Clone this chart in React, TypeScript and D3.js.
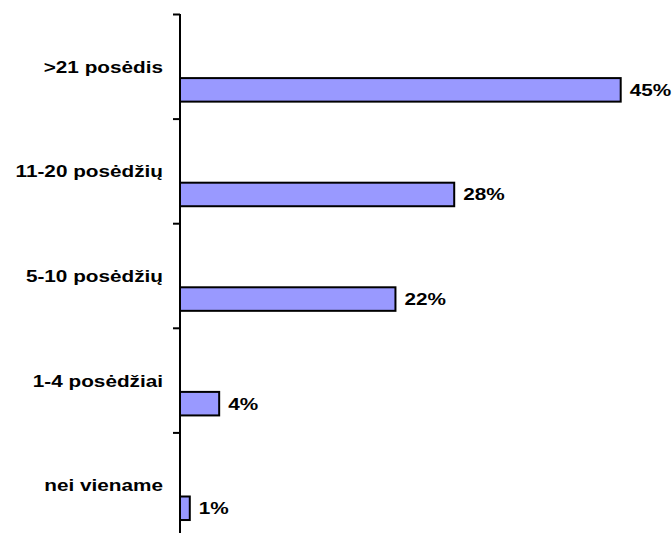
import React from "react";
import * as d3 from "d3";

const categories = [">21 posėdis", "11-20 posėdžių", "5-10 posėdžių", "1-4 posėdžiai", "nei viename"];
const values = [45, 28, 22, 4, 1];
const valueLabels = ["45%", "28%", "22%", "4%", "1%"];

const W = 672;
const H = 533;
const FONT = "'Liberation Sans', Arial, Helvetica, sans-serif";
const SX = 1.22;

export default function App() {
  const y = d3.scaleBand<string>().domain(categories).range([14.5, 537.5]).padding(0);
  const x = d3.scaleLinear().domain([0, 45]).range([180, 620.7]);
  const bw = y.bandwidth();
  const barOff = bw * 0.608;
  const barH = bw * 0.225;
  const ticks = [...categories.map((c) => y(c)!), 537.5];

  return (
    <svg
      width={W}
      height={H}
      style={{ position: "absolute", left: 0, top: 0, background: "#fff" }}
      fontFamily={FONT}
    >
      {categories.map((c, i) => {
        const y0 = y(c)!;
        return (
          <g key={c}>
            <rect
              x={x(0)}
              y={y0 + barOff}
              width={x(values[i]) - x(0)}
              height={barH}
              fill="#9999FF"
              stroke="#000"
              strokeWidth={2}
            />
            <text
              transform={`translate(${x(values[i]) + 9},${y0 + barOff + barH / 2 + 6}) scale(${SX},1)`}
              fontSize={17}
              fontWeight="bold"
              fill="#000"
            >
              {valueLabels[i]}
            </text>
            <text
              transform={`translate(163,${y0 + bw / 2 + 6}) scale(${SX},1)`}
              fontSize={17}
              fontWeight="bold"
              textAnchor="end"
              fill="#000"
            >
              {c}
            </text>
          </g>
        );
      })}
      <line x1={180} x2={180} y1={14} y2={540} stroke="#000" strokeWidth={2} />
      {ticks.map((t, i) => (
        <line key={i} x1={173} x2={180} y1={t} y2={t} stroke="#000" strokeWidth={2} />
      ))}
    </svg>
  );
}
